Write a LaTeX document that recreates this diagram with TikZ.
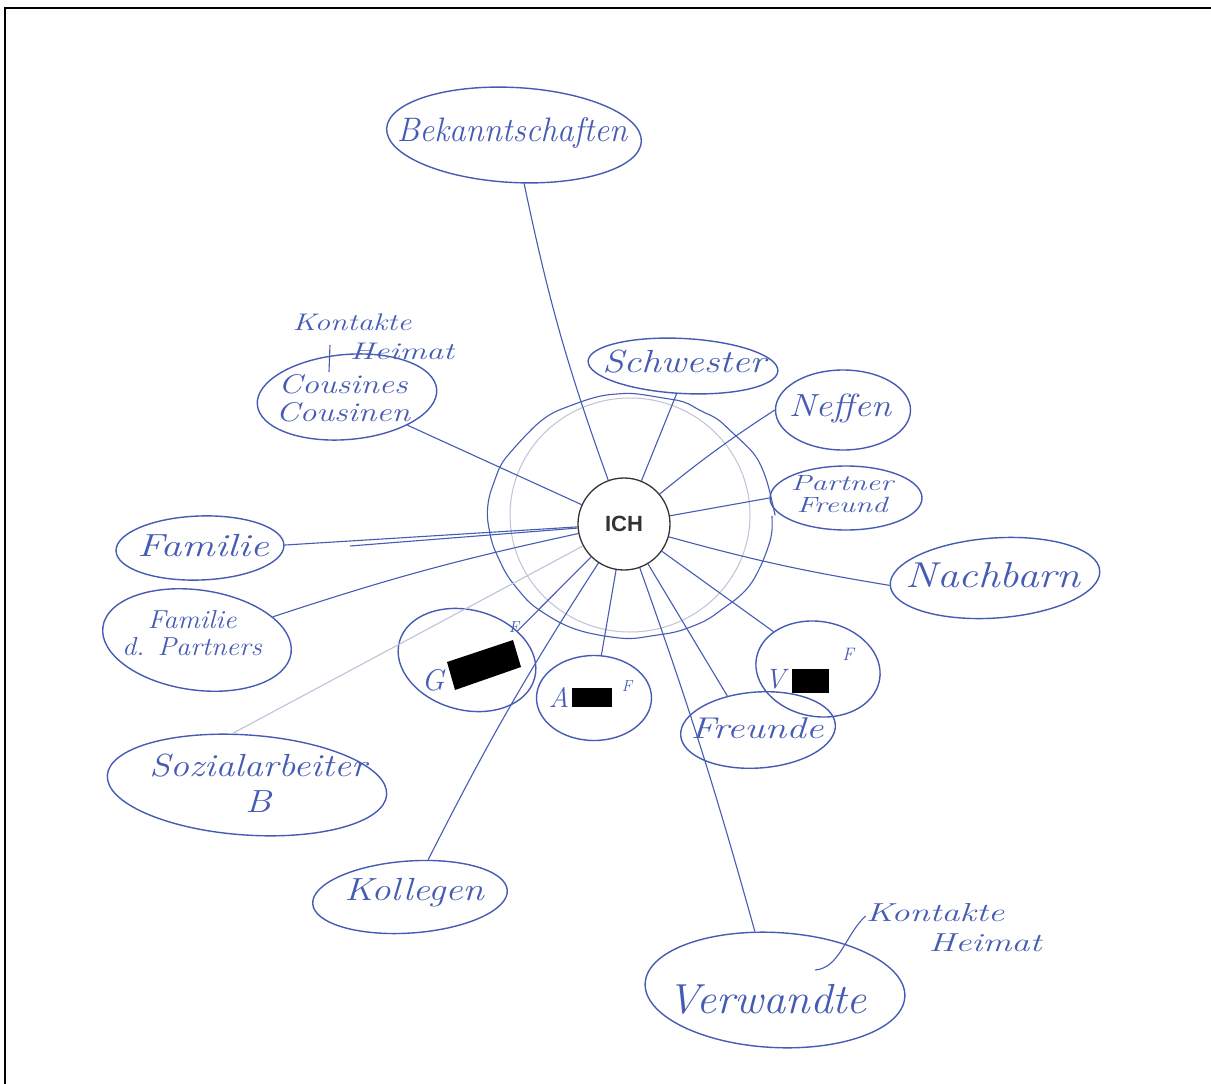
\documentclass[tikz,border=0pt]{standalone}
\usepackage{fontspec}
\usepackage{graphicx}
\newfontfamily\arialfont{Liberation Sans}
\usetikzlibrary{shapes.geometric,decorations.pathmorphing}
\definecolor{ink}{RGB}{70,92,180}
\definecolor{pencil}{RGB}{190,195,215}
\newcommand\hw[2]{\scalebox{#1}[1]{\begin{tabular}{@{}c@{}}#2\end{tabular}}}
\newcommand\hf[2]{\fontsize{#1}{#2}\selectfont\itshape}
\begin{document}
\begin{tikzpicture}[x=1pt,y=-1pt,
  blob/.style={ellipse, draw=ink, line width=1.4pt, inner sep=0pt},
  lbl/.style={text=ink, align=center, inner sep=0pt},
  link/.style={draw=ink, line width=1.1pt},
  faint/.style={draw=pencil, line width=1.1pt},
  redact/.style={fill=black, draw=none},
]
\pgfmathsetseed{7}
\useasboundingbox (0,0) rectangle (1211,1084);
\fill[white] (0,0) rectangle (1211,1084);
% frame
\draw[black, line width=1.6pt] (5,1084) -- (5,8) -- (1211,8);

% hand-drawn circles around ICH
\draw[pencil, line width=1pt] (630,515) ellipse [x radius=120, y radius=117];
\draw[ink, line width=1.1pt, decorate, decoration={random steps,segment length=18pt,amplitude=1.5pt}, rounded corners=8pt]
  (631,516) ellipse [x radius=141, y radius=121];

% ellipses
\node[blob, minimum width=255pt, minimum height=95pt, rotate=-3] (bek)  at (514,135) {};
\node[blob, minimum width=190pt, minimum height=55pt, rotate=-3] (schw) at (683,366) {};
\node[blob, minimum width=135pt, minimum height=80pt] (neff) at (843,410) {};
\node[blob, minimum width=152pt, minimum height=64pt] (part) at (846,498) {};
\node[blob, minimum width=210pt, minimum height=80pt, rotate=4] (nach) at (995,578) {};
\node[blob, minimum width=180pt, minimum height=85pt, rotate=5] (cous) at (347,397) {};
\node[blob, minimum width=168pt, minimum height=64pt, rotate=2] (fam)  at (200,548) {};
\node[blob, minimum width=190pt, minimum height=100pt, rotate=-8] (famp) at (197,640) {};
\node[blob, minimum width=280pt, minimum height=100pt, rotate=-4] (soz)  at (247,785) {};
\node[blob, minimum width=195pt, minimum height=72pt, rotate=4] (koll) at (410,897) {};
\node[blob, minimum width=140pt, minimum height=100pt, rotate=-15] (gf)   at (467,660) {};
\node[blob, minimum width=115pt, minimum height=85pt] (af)   at (594,698) {};
\node[blob, minimum width=125pt, minimum height=95pt, rotate=-10] (vf)   at (818,669) {};
\node[blob, minimum width=155pt, minimum height=76pt, rotate=4] (freu) at (758,730) {};
\node[blob, minimum width=260pt, minimum height=115pt, rotate=-3] (verw) at (775,990) {};

% ICH
\node[circle, draw=black!80, line width=1.3pt, minimum size=92pt, fill=white,
  font=\arialfont\bfseries\fontsize{22}{22}\selectfont, text=black!80] (ich) at (624,524) {ICH};

% connectors
\coordinate (famx) at (350,546);
\draw[link] (ich) to[bend left=4] (bek);
\draw[link] (ich) -- (schw.260);
\draw[link] (ich) to[bend left=3] (neff.west);
\draw[link] (ich) -- (part.west);
\draw[link] (ich) to[bend right=3] (nach.west);
\draw[link] (ich) -- (cous.-30);
\draw[link] (ich) -- (fam.east);
\draw[link] (ich.185) -- (famx);
\draw[link] (ich) to[bend right=3] (famp.25);
\draw[faint] (ich) -- (soz.110);
\draw[link] (ich) -- (gf.45);
\draw[link] (ich) -- (af);
\draw[link] (ich) to[bend right=3] (koll.60);
\draw[link] (ich) to[bend left=2] (verw.112);
\draw[link] (ich) -- (freu.128);
\draw[link] (ich) -- (vf.150);

% labels
\node[lbl, font=\hf{34}{34}] (bekt) at (512,135) {\hw{0.97}{Bekanntschaften}};
\node[lbl, font=\hf{32}{32}] (schwt) at (684,366) {\hw{1.22}{Schwester}};
\node[lbl, font=\hf{32}{32}] (nefft) at (840,410) {\hw{1.15}{Neffen}};
\node[lbl, font=\hf{22}{21}] (partt) at (842,497) {\hw{1.4}{Partner\\Freund}};
\node[lbl, font=\hf{36}{36}] (nacht) at (993,580) {\hw{1.2}{Nachbarn}};
\node[lbl, font=\hf{27}{27}] (coust) at (343,402) {\hw{1.25}{Cousines\\Cousinen}};
\node[lbl, font=\hf{32}{32}] (famt) at (203,550) {\hw{1.3}{Familie}};
\node[lbl, font=\hf{26}{27}] (fampt) at (192,637) {\hw{1.08}{Familie\\d. Partners}};
\node[lbl, font=\hf{32}{36}] (sozt) at (258,787) {\hw{1.18}{Sozialarbeiter\\B}};
\node[lbl, font=\hf{32}{32}] (kollt) at (414,894) {\hw{1.2}{Kollegen}};
\node[lbl, font=\hf{30}{30}] (freut) at (757,732) {\hw{1.3}{Freunde}};
\node[lbl, font=\hf{42}{42}] (verwt) at (767,1005) {\hw{1.06}{Verwandte}};

% annotations "Kontakte Heimat"
\node[lbl, font=\hf{24}{24}] (kh1a) at (352,326) {\hw{1.3}{Kontakte}};
\node[lbl, font=\hf{24}{24}] (kh1b) at (402,355) {\hw{1.4}{Heimat}};
\coordinate (kh1s) at (330,345);
\coordinate (kh1c) at (329,372);
\draw[link] (kh1s) -- (kh1c);
\node[lbl, font=\hf{26}{26}] (kh2a) at (935,916) {\hw{1.4}{Kontakte}};
\node[lbl, font=\hf{26}{26}] (kh2b) at (985,946) {\hw{1.4}{Heimat}};
\coordinate (kh2c) at (815,970);
\draw[link] (kh2a.west) .. controls (845,935) and (840,968) .. (kh2c);

% redacted names
\node[lbl, font=\hf{30}{30}] (gl) at (433,680) {G};
\node[lbl, font=\hf{16}{16}] (gfl) at (514,627) {F};
\fill[redact] (447,662) -- (513,640) -- (521,667) -- (455,690) -- cycle;
\node[lbl, font=\hf{28}{28}] (al) at (559,697) {A};
\node[lbl, font=\hf{16}{16}] (afl) at (627,686) {F};
\fill[redact] (572,688) rectangle (612,707);
\node[lbl, font=\hf{28}{28}] (vl) at (775,679) {V};
\node[lbl, font=\hf{18}{18}] (vfl) at (848,654) {F};
\fill[redact] (792,669) rectangle (829,693);
\end{tikzpicture}
\end{document}
